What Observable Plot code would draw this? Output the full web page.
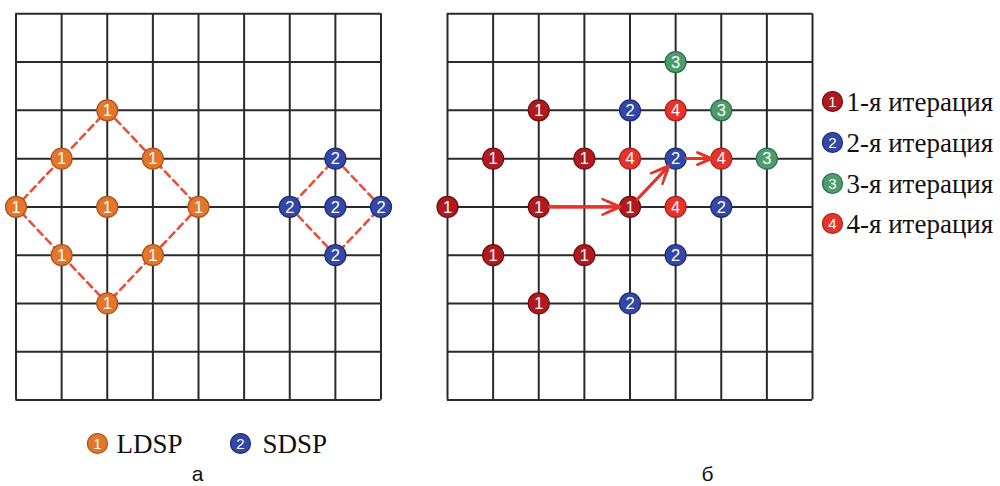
<!DOCTYPE html>
<html>
<head>
<meta charset="utf-8">
<script src="https://cdn.jsdelivr.net/npm/d3@7"></script>
<script src="https://cdn.jsdelivr.net/npm/@observablehq/plot@0.6"></script>
<style>
  html, body { margin: 0; padding: 0; background: #fff; }
</style>
</head>
<body>
<div id="chart"></div>
<script>
// ---- data (grid coordinates: column, row from top) ----
const gridTicks = [0, 1, 2, 3, 4, 5, 6, 7, 8];

// panel а
const ldspPoints = [[2,2],[1,3],[3,3],[0,4],[2,4],[4,4],[1,5],[3,5],[2,6]];
const sdspPoints = [[6,4],[7,3],[7,4],[8,4],[7,5]];
const ldspOutline = [[2,2],[4,4],[2,6],[0,4],[2,2]];
const sdspOutline = [[7,3],[8,4],[7,5],[6,4],[7,3]];

// panel б
const iter1 = [[2,2],[1,3],[3,3],[0,4],[2,4],[4,4],[1,5],[3,5],[2,6]];
const iter2 = [[4,2],[5,3],[6,4],[5,5],[4,6]];
const iter3 = [[5,1],[6,2],[7,3]];
const iter4 = [[5,2],[4,3],[6,3],[5,4]];
const searchPath = [[2,4,4,4],[4,4,5,3],[5,3,6,3]];

const iterLabels = ["1-я итерация", "2-я итерация", "3-я итерация", "4-я итерация"];
const iterDigits = ["1", "2", "3", "4"];
const bottomLabels = ["LDSP", "SDSP"];
const bottomDigits = ["1", "2"];
const panelLabels = ["а", "б"];

// ---- styles ----
const colors = {
  ldsp: {fill: "#e2772b", stroke: "#a9521c"},
  sdsp: {fill: "#3247a6", stroke: "#1f2c73"},
  it1:  {fill: "#b1191f", stroke: "#6e0e10"},
  it2:  {fill: "#3247a6", stroke: "#1f2c73"},
  it3:  {fill: "#4c9d6d", stroke: "#2d6d4a"},
  it4:  {fill: "#e8332b", stroke: "#a8221c"}
};
const iterColors = [colors.it1, colors.it2, colors.it3, colors.it4];

// ---- layout (pixels -> grid units) ----
const W = 1000, H = 486;
const cw = 45.625, ch = 48.275;
const left0 = 15.5, top0 = 13.3, right0 = 447;
const X0 = -left0 / cw, X1 = X0 + W / cw;
const Y0 = -top0 / ch, Y1 = Y0 + H / ch;
const OFF = (right0 - left0) / cw;
const ux = p => X0 + p / cw;
const uy = p => Y0 + p / ch;

const R = 10.5;
const digitFont = "Liberation Sans, Arial, sans-serif";
const serif = "Liberation Serif, Times New Roman, serif";

function gridMarks(off) {
  return [
    Plot.ruleX(gridTicks, {x: d => d + off, y1: 0, y2: 8, stroke: "#2a2a2a", strokeWidth: 2}),
    Plot.ruleY(gridTicks, {y: d => d, x1: off, x2: 8 + off, stroke: "#2a2a2a", strokeWidth: 2})
  ];
}

function circleMarks(pts, off, col, digit, r = R, fs = 16.5) {
  return [
    Plot.dot(pts, {x: d => d[0] + off, y: d => d[1], r, fill: col.fill, stroke: col.stroke, strokeWidth: 1.2}),
    Plot.text(pts, {x: d => d[0] + off, y: d => d[1], text: () => digit, fill: "white",
      fontSize: fs, fontFamily: digitFont, dy: 0.5})
  ];
}

const dashStyle = {stroke: "#e8503c", strokeWidth: 2.6, strokeDasharray: "7,5", curve: "linear"};

// arrows: nested heads fill the arrowhead triangle
const arrowBase = {x1: d => d[0] + OFF, y1: d => d[1], x2: d => d[2] + OFF, y2: d => d[3],
  stroke: "#e8332b", strokeWidth: 2.6, headAngle: 48, insetStart: 10.5, insetEnd: 10};
const arrowMarks = [11, 8, 5, 2.5].map(h => Plot.arrow(searchPath, {...arrowBase, headLength: h}));

// right legend
const legendRows = iterLabels.map((t, i) => ({t, d: iterDigits[i], col: iterColors[i], y: uy([101, 142, 183, 223][i])}));
// bottom legend
const bottomRows = bottomLabels.map((t, i) => ({t, d: bottomDigits[i], col: [colors.ldsp, colors.sdsp][i],
  xc: ux([97, 240][i]), xt: ux([116, 262][i]), y: uy(443)}));
const panelRows = panelLabels.map((t, i) => ({t, x: ux([197, 707][i]), y: uy(474)}));

const chart = Plot.plot({
  width: W, height: H, margin: 0,
  x: {domain: [X0, X1], range: [0, W], axis: null},
  y: {domain: [Y0, Y1], range: [0, H], axis: null},
  style: {background: "white", overflow: "visible"},
  marks: [
    ...gridMarks(0),
    ...gridMarks(OFF),
    // panel а
    Plot.line(ldspOutline, {x: d => d[0], y: d => d[1], ...dashStyle}),
    Plot.line(sdspOutline, {x: d => d[0], y: d => d[1], ...dashStyle}),
    ...circleMarks(ldspPoints, 0, colors.ldsp, "1"),
    ...circleMarks(sdspPoints, 0, colors.sdsp, "2"),
    // panel б
    ...circleMarks(iter1, OFF, colors.it1, "1"),
    ...circleMarks(iter2, OFF, colors.it2, "2"),
    ...circleMarks(iter3, OFF, colors.it3, "3"),
    ...circleMarks(iter4, OFF, colors.it4, "4"),
    ...arrowMarks,
    // right legend
    Plot.dot(legendRows, {x: ux(832), y: "y", r: 10, fill: d => d.col.fill, stroke: d => d.col.stroke, strokeWidth: 1.2}),
    Plot.text(legendRows, {x: ux(832), y: "y", text: "d", fill: "white", fontSize: 15, fontFamily: digitFont, dy: 0.5}),
    Plot.text(legendRows, {x: ux(846), y: "y", text: "t", textAnchor: "start", fill: "#111",
      fontSize: 27, fontFamily: serif, dy: 1}),
    // bottom legend
    Plot.dot(bottomRows, {x: "xc", y: "y", r: 10, fill: d => d.col.fill, stroke: d => d.col.stroke, strokeWidth: 1.2}),
    Plot.text(bottomRows, {x: "xc", y: "y", text: "d", fill: "white", fontSize: 15, fontFamily: digitFont, dy: 0.5}),
    Plot.text(bottomRows, {x: "xt", y: "y", text: "t", textAnchor: "start", fill: "#111",
      fontSize: 27, fontFamily: serif, dy: 1}),
    // panel labels
    Plot.text(panelRows, {x: "x", y: "y", text: "t", fill: "#111", fontSize: 21, fontFamily: digitFont})
  ]
});
document.getElementById("chart").appendChild(chart);
</script>
</body>
</html>
